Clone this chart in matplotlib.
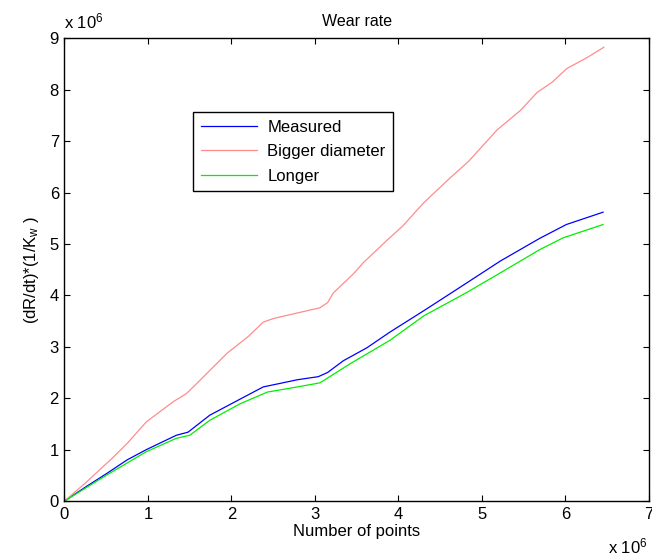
import matplotlib
matplotlib.use("Agg")
import matplotlib.pyplot as plt
from matplotlib.ticker import FuncFormatter

plt.rcParams['font.family'] = ['Liberation Sans', 'DejaVu Sans']
plt.rcParams['mathtext.fontset'] = 'custom'
plt.rcParams['mathtext.rm'] = 'Liberation Sans'
plt.rcParams['mathtext.it'] = 'Liberation Sans'

# wear rate curves, x in units of 1e6 points, y in units of 1e6
measured_x = [0, 0.25, 0.51, 0.75, 0.98, 1.34, 1.48, 1.74, 2.10, 2.38, 2.79, 3.04,
              3.15, 3.34, 3.62, 3.90, 4.30, 4.70, 5.22, 5.69, 6.01, 6.45]
measured_y = [0, 0.27, 0.54, 0.80, 1.00, 1.28, 1.34, 1.67, 1.98, 2.22, 2.36, 2.42,
              2.50, 2.73, 2.98, 3.29, 3.70, 4.12, 4.67, 5.11, 5.38, 5.62]

bigger_x = [0, 0.25, 0.55, 0.75, 0.98, 1.30, 1.46, 1.58, 1.74, 1.95, 2.20, 2.38,
            2.50, 2.79, 3.06, 3.15, 3.22, 3.46, 3.58, 3.86, 4.05, 4.30, 4.62, 4.84,
            5.18, 5.46, 5.66, 5.84, 6.02, 6.25, 6.46]
bigger_y = [0, 0.35, 0.80, 1.12, 1.54, 1.93, 2.09, 2.28, 2.54, 2.88, 3.20, 3.48,
            3.55, 3.66, 3.76, 3.86, 4.05, 4.42, 4.64, 5.07, 5.35, 5.80, 6.29, 6.61,
            7.22, 7.60, 7.95, 8.15, 8.42, 8.62, 8.83]

longer_x = [0, 0.25, 0.50, 0.98, 1.34, 1.50, 1.74, 2.10, 2.43, 2.79, 3.06, 3.42,
            3.90, 4.30, 4.82, 5.22, 5.69, 5.97, 6.45]
longer_y = [0, 0.25, 0.50, 0.96, 1.22, 1.28, 1.57, 1.89, 2.12, 2.22, 2.30, 2.67,
            3.13, 3.60, 4.06, 4.44, 4.89, 5.12, 5.38]

fig = plt.figure(figsize=(6.52, 5.57), dpi=100)
ax = fig.add_axes([0.0989, 0.1005, 0.8965, 0.8304])

ax.plot(measured_x, measured_y, color='#0000ff', lw=0.9, label='Measured')
ax.plot(bigger_x, bigger_y, color='#ff8c8c', lw=0.9, label='Bigger diameter')
ax.plot(longer_x, longer_y, color='#00ee00', lw=0.9, label='Longer')

ax.set_xlim(0, 7)
ax.set_ylim(0, 9)
ax.set_xticks(range(0, 8))
ax.set_yticks(range(0, 10))
fmt = FuncFormatter(lambda v, p: f'{v:g}')
ax.xaxis.set_major_formatter(fmt)
ax.yaxis.set_major_formatter(fmt)
ax.tick_params(direction='in', length=4, width=0.8, top=True, right=True,
               labelsize=12, pad=4)
for s in ax.spines.values():
    s.set_linewidth(1.0)

ax.set_title('Wear rate', fontsize=11.5, pad=9)
ax.set_xlabel('Number of points', fontsize=12, labelpad=2)
ax.set_ylabel(r'(dR/dt)*(1/K$_{\mathrm{w}}$ )', fontsize=12, labelpad=6)

# exponent labels in MATLAB style
ax.text(0.0, 1.015, r'x 10$^{6}$', transform=ax.transAxes, fontsize=12,
        ha='left', va='bottom')
fig.text(648 / 652, 1 - 553 / 557, r'x 10$^{6}$', fontsize=12,
         ha='right', va='baseline')

leg = ax.legend(loc='upper left', bbox_to_anchor=(0.22, 0.841), borderaxespad=0,
                fancybox=False, edgecolor='black', framealpha=1, fontsize=12,
                handlelength=3.4, labelspacing=0.58, borderpad=0.45,
                handletextpad=0.6)
leg.get_frame().set_linewidth(1.0)

fig.savefig('out.png', dpi=100)
